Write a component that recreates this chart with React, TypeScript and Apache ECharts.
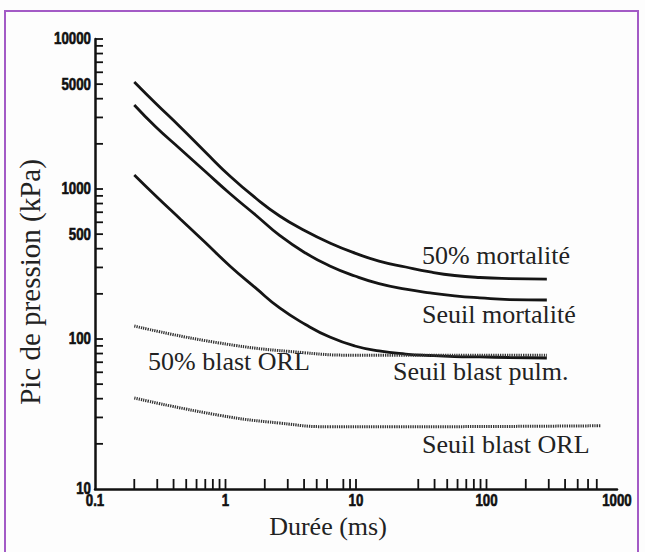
import React, { useEffect, useRef } from "react";
import * as echarts from "echarts";

// Durations (ms) and peak pressures (kPa)
const durations = [0.2, 0.29, 0.45, 0.7, 1.08, 1.7, 2.6, 4.1, 6.3, 9.8, 15, 24, 37, 57, 89, 150, 290];
const mortalite50 = [5168, 3744, 2591, 1765, 1221, 871, 661, 525, 437, 374, 331, 302, 280, 265, 257, 253, 251];
const seuilMortalite = [3631, 2610, 1848, 1308, 933, 671, 490, 374, 307, 263, 234, 215, 203, 194, 188, 183, 182];
const seuilBlastPulm = [1240, 905, 631, 440, 307, 219, 161, 125, 103, 89.8, 83.2, 79.4, 77.6, 76.4, 75.9, 75.3, 74.7];

const orl50Durations = [0.2, 0.9, 4, 10, 290];
const blastOrl50 = [122, 94, 81, 78, 78];

const seuilOrlDurations = [0.2, 0.9, 2.6, 6.3, 20, 750];
const seuilBlastOrl = [40.4, 31, 27.5, 26, 26, 26.4];

const xTickValues = [0.2, 0.3, 0.4, 0.5, 0.6, 0.7, 0.8, 0.9, 1, 2, 3, 4, 5, 6, 8, 9, 10, 30, 40, 50, 60, 70, 80, 90, 100, 200, 300, 400, 500, 600, 700];
const yTickValues = [20, 30, 40, 50, 60, 70, 80, 90, 100, 200, 300, 400, 500, 600, 700, 800, 900, 1000, 2000, 3000, 4000, 5000, 6000, 7000, 8000, 9000, 10000];
const xLabels = [0.1, 1, 10, 100, 1000];
const yLabels = [10, 100, 500, 1000, 5000, 10000];

const curveNames = ["50% mortalité", "Seuil mortalité", "Seuil blast pulm.", "50% blast ORL", "Seuil blast ORL"];

const SERIF = '"Liberation Serif", "Times New Roman", serif';
const TICKFONT = 'bold 16px "Liberation Sans", Arial, sans-serif';

const pairs = (xs: number[], ys: number[]) => xs.map((x, i) => [x, ys[i]]);

export default function App() {
  const ref = useRef<HTMLDivElement>(null);
  useEffect(() => {
    if (!ref.current) return;
    const chart = echarts.init(ref.current, undefined, { renderer: "svg" });
    const solid = { color: "#151515", width: 2.8 };
    const dotted = { color: "#333", width: 3, type: [1.3, 1] as any };
    const line = (name: string, xs: number[], ys: number[], style: any) => ({
      name, type: "line", data: pairs(xs, ys), showSymbol: false, smooth: 0.5, lineStyle: style,
    });
    chart.setOption({
      animation: false,
      backgroundColor: "#fdfdfd",
      grid: { left: 95, right: 28, top: 39, bottom: 63 },
      xAxis: {
        type: "log", logBase: 10, min: 0.1, max: 1000,
        axisLine: { lineStyle: { color: "#111", width: 2.5 } },
        axisTick: { show: false }, axisLabel: { show: false }, splitLine: { show: false },
      },
      yAxis: {
        type: "log", logBase: 10, min: 10, max: 10000,
        axisLine: { lineStyle: { color: "#111", width: 2.5 } },
        axisTick: { show: false }, axisLabel: { show: false }, splitLine: { show: false },
      },
      graphic: [
        { type: "rect", shape: { x: 5, y: 11, width: 633, height: 560 }, style: { fill: "transparent", stroke: "#a35bc6", lineWidth: 2 }, silent: true },
        { type: "text", x: 30, y: 282, rotation: Math.PI / 2, style: { text: "Pic de pression (kPa)", font: `29px ${SERIF}`, fill: "#222", align: "center", verticalAlign: "middle" } },
        { type: "text", x: 328, y: 526, style: { text: "Durée (ms)", font: `26px ${SERIF}`, fill: "#222", align: "center", verticalAlign: "middle" } },
        { type: "text", x: 422, y: 255, style: { text: curveNames[0], font: `26px ${SERIF}`, fill: "#222", verticalAlign: "middle" } },
        { type: "text", x: 422, y: 314, style: { text: curveNames[1], font: `26px ${SERIF}`, fill: "#222", verticalAlign: "middle" } },
        { type: "text", x: 393, y: 371, style: { text: curveNames[2], font: `26px ${SERIF}`, fill: "#222", verticalAlign: "middle" } },
        { type: "text", x: 148, y: 361, style: { text: curveNames[3], font: `26px ${SERIF}`, fill: "#222", verticalAlign: "middle" } },
        { type: "text", x: 422, y: 444, style: { text: curveNames[4], font: `26px ${SERIF}`, fill: "#222", verticalAlign: "middle" } },
      ],
      series: [
        line(curveNames[0], durations, mortalite50, solid),
        line(curveNames[1], durations, seuilMortalite, solid),
        line(curveNames[2], durations, seuilBlastPulm, solid),
        line(curveNames[3], orl50Durations, blastOrl50, dotted),
        line(curveNames[4], seuilOrlDurations, seuilBlastOrl, dotted),
        {
          type: "custom", silent: true, clip: false, z: 5,
          data: xTickValues.map((v) => [v, 10]),
          renderItem: (_p: any, api: any) => {
            const p = api.coord([api.value(0), api.value(1)]);
            return { type: "line", shape: { x1: p[0], y1: p[1], x2: p[0], y2: p[1] - 10 }, style: { stroke: "#111", lineWidth: 1.8 } };
          },
        },
        {
          type: "custom", silent: true, clip: false, z: 5,
          data: yTickValues.map((v) => [0.1, v]),
          renderItem: (_p: any, api: any) => {
            const p = api.coord([api.value(0), api.value(1)]);
            return { type: "line", shape: { x1: p[0], y1: p[1], x2: p[0] + 8, y2: p[1] }, style: { stroke: "#111", lineWidth: 1.8 } };
          },
        },
        {
          type: "custom", silent: true, clip: false, z: 5,
          data: xLabels.map((v) => [v, 10]),
          renderItem: (params: any, api: any) => {
            const p = api.coord([api.value(0), api.value(1)]);
            return { type: "text", x: p[0], y: p[1] + 12, scaleX: 0.83, style: { text: String(xLabels[params.dataIndex]), font: TICKFONT, fill: "#111", align: "center", verticalAlign: "middle", stroke: "#111", lineWidth: 0.6 } };
          },
        },
        {
          type: "custom", silent: true, clip: false, z: 5,
          data: yLabels.map((v) => [0.1, v]),
          renderItem: (params: any, api: any) => {
            const p = api.coord([api.value(0), api.value(1)]);
            return { type: "text", x: p[0] - 4, y: p[1], scaleX: 0.83, style: { text: String(yLabels[params.dataIndex]), font: TICKFONT, fill: "#111", align: "right", verticalAlign: "middle", stroke: "#111", lineWidth: 0.6 } };
          },
        },
      ],
    });
    return () => chart.dispose();
  }, []);
  return <div ref={ref} style={{ position: "absolute", left: 0, top: 0, width: 645, height: 552 }} />;
}
